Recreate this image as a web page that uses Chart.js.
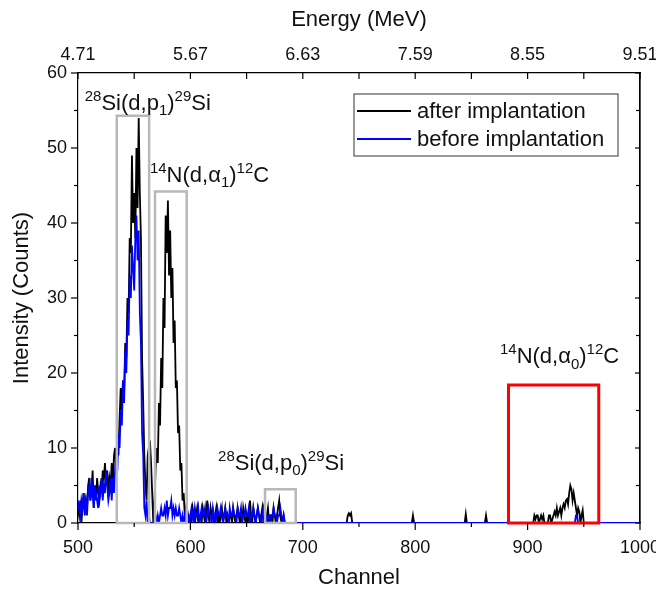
<!DOCTYPE html>
<html>
<head>
<meta charset="utf-8">
<script src="https://cdn.jsdelivr.net/npm/chart.js@4.4.1/dist/chart.umd.min.js"></script>
<style>
  html, body { margin: 0; padding: 0; background: #fff; }
</style>
</head>
<body>
<canvas id="spectrum" width="656" height="592"></canvas>
<script>
const FONT = '"Liberation Sans", Arial, sans-serif';

// spectrum, one count per channel from channel 500 to 699
const startChannel = 500;
const afterCounts = [
  2,1,3,0,2,4,1,3,2,5,   6,3,4,7,2,5,3,6,4,3,
  5,4,7,6,8,5,7,4,6,5,   8,5,9,10,7,12,9,14,18,15,
  19,17,24,22,30,28,38,36,49,40,   44,38,50,42,54,44,38,22,16,9,
  5,3,9,10,11,8,4,0,3,7,   10,8,16,13,22,18,30,26,41,36,
  43,33,39,30,34,24,27,18,19,12,   13,7,8,3,4,1,2,0,1,0,
  1,0,2,1,0,1,2,0,1,1,   0,2,1,0,1,3,1,0,2,1,
  1,0,1,2,0,1,0,1,2,0,   1,2,0,1,0,1,1,0,2,1,
  0,1,2,1,0,1,0,2,1,0,   1,0,1,3,1,0,2,1,0,1,
  2,1,0,1,2,0,1,0,1,2,   0,1,1,0,2,1,0,1,2,3,
  1,0,0,1,0,0,0,0,0,0,   0,0,0,0,0,0,0,0,0,0
];
const beforeCounts = [
  3,2,1,3,2,4,2,3,1,4,   5,3,6,4,2,5,4,3,2,5,
  4,6,3,5,4,7,5,3,4,6,   3,6,4,7,9,7,12,10,15,13,
  19,16,23,20,27,25,33,30,37,34,   31,38,41,35,39,28,24,12,9,2,
  1,3,0,1,0,0,0,0,0,1,   0,1,0,1,2,1,1,2,1,3,
  1,2,2,3,1,2,1,2,1,1,   2,1,0,1,0,1,0,1,1,0,
  1,2,1,0,2,1,1,2,0,1,   2,1,1,2,0,1,2,1,1,0,
  2,1,0,1,2,1,1,2,1,0,   1,2,1,1,0,2,1,1,2,1,
  1,0,2,1,1,2,0,1,1,2,   1,1,2,0,1,1,2,1,0,1,
  2,1,1,0,1,2,1,1,0,1,   1,0,1,1,2,1,1,0,1,1,
  2,1,0,1,0,0,0,0,0,0,   0,0,0,0,0,0,0,0,0,0
];

// channels 700-1000 are almost empty, only these points
const afterTailChannels = [700,739,740,741,742,743,744,797,798,799,844,845,846,862,863,864,
  905,906,907,908,909,910,912,913,914,915,918,919,920,921,923,924,925,926,927,928,929,930,
  931,932,933,934,935,936,937,938,939,940,941,942,943,944,945,946,947,948,949,950,1000];
const afterTailCounts = [0,0,1,1.3,1,1.3,0,0,1,0,0,1.2,0,0,1,0,
  0,1,0.5,1,1,0,1,0.5,1,0,0,1,1,0,1,1.5,1,2,1,1.5,2,1,
  2,2.5,2,3,3.2,2.5,4,5,4.5,3,4,3,2,1,2,1.5,0,1,1.7,0,0];
const beforeTailChannels = [700,942,943,944,945,1000];
const beforeTailCounts = [0,0,1,1,0,0];

const channelTicks = [500,600,700,800,900,1000];
const minorChannelTicks = [550,650,750,850,950];
const energyTicks = ['4.71','5.67','6.63','7.59','8.55','9.51'];
const countTicks = [0,10,20,30,40,50,60];
const minorCountTicks = [5,15,25,35,45,55];

// marked regions: [from channel, to channel, top count]
const grayBoxes = [[534.5,563.3,54.3],[568.5,596.7,44.2],[666.4,693.7,4.5]];
const redBoxes = [[883,963.3,18.4]];

const labels = [
  { parts: [['28','sup'],['Si(d,p',''],['1','sub'],[')',''],['29','sup'],['Si','']], ch: 506, c: 55.1 },
  { parts: [['14','sup'],['N(d,α',''],['1','sub'],[')',''],['12','sup'],['C','']], ch: 564, c: 45.5 },
  { parts: [['28','sup'],['Si(d,p',''],['0','sub'],[')',''],['29','sup'],['Si','']], ch: 624.6, c: 7.1 },
  { parts: [['14','sup'],['N(d,α',''],['0','sub'],[')',''],['12','sup'],['C','']], ch: 875.4, c: 21.3 }
];

function toPoints(counts, tailCh, tailCounts) {
  const pts = counts.map((c, i) => ({ x: startChannel + i, y: c }));
  tailCh.forEach((ch, i) => pts.push({ x: ch, y: tailCounts[i] }));
  return pts;
}

function drawRich(ctx, parts, x, y, size) {
  let cx = x;
  parts.forEach(([text, kind]) => {
    const s = kind ? Math.round(size * 0.66) : size;
    ctx.font = s + 'px ' + FONT;
    const dy = kind === 'sup' ? -size * 0.42 : kind === 'sub' ? size * 0.24 : 0;
    ctx.fillText(text, cx, y + dy);
    cx += ctx.measureText(text).width;
  });
}

function line(ctx, x1, y1, x2, y2) {
  ctx.beginPath();
  ctx.moveTo(x1, y1);
  ctx.lineTo(x2, y2);
  ctx.stroke();
}

// keep the plot frame fixed, labels may hang over the edges
function noPad(s) {
  s.paddingLeft = 0;
  s.paddingRight = 0;
  s.paddingTop = 0;
  s.paddingBottom = 0;
}

const decor = {
  id: 'decor',
  afterDatasetsDraw(chart) {
    const ctx = chart.ctx;
    const x = chart.scales.x, y = chart.scales.y;
    ctx.save();
    ctx.lineWidth = 2.5;
    ctx.strokeStyle = '#b8b8b8';
    grayBoxes.forEach(b => {
      ctx.strokeRect(x.getPixelForValue(b[0]), y.getPixelForValue(b[2]),
        x.getPixelForValue(b[1]) - x.getPixelForValue(b[0]), y.getPixelForValue(0) - y.getPixelForValue(b[2]));
    });
    ctx.lineWidth = 3;
    ctx.strokeStyle = '#ff0000';
    redBoxes.forEach(b => {
      ctx.strokeRect(x.getPixelForValue(b[0]), y.getPixelForValue(b[2]),
        x.getPixelForValue(b[1]) - x.getPixelForValue(b[0]), y.getPixelForValue(0) - y.getPixelForValue(b[2]));
    });
    ctx.restore();
  },
  afterDraw(chart) {
    const ctx = chart.ctx;
    const x = chart.scales.x, y = chart.scales.y;
    const a = chart.chartArea;
    ctx.save();
    ctx.strokeStyle = '#000';
    ctx.lineWidth = 1.2;
    line(ctx, a.right, a.top, a.right, a.bottom);
    channelTicks.forEach(v => {
      const px = x.getPixelForValue(v);
      line(ctx, px, a.bottom, px, a.bottom + 7);
      line(ctx, px, a.top, px, a.top + 6);
    });
    minorChannelTicks.forEach(v => {
      const px = x.getPixelForValue(v);
      line(ctx, px, a.bottom, px, a.bottom + 4);
      line(ctx, px, a.top, px, a.top + 6);
    });
    countTicks.forEach(v => {
      const py = y.getPixelForValue(v);
      line(ctx, a.left - 7, py, a.left, py);
      line(ctx, a.right - 5, py, a.right, py);
    });
    minorCountTicks.forEach(v => {
      const py = y.getPixelForValue(v);
      line(ctx, a.left - 4, py, a.left, py);
      line(ctx, a.right - 4, py, a.right, py);
    });

    // peak labels
    ctx.fillStyle = '#111';
    ctx.textBaseline = 'alphabetic';
    labels.forEach(l => drawRich(ctx, l.parts, x.getPixelForValue(l.ch), y.getPixelForValue(l.c), 22));

    // legend
    const lx = 354, ly = 94;
    ctx.lineWidth = 1;
    ctx.strokeStyle = '#333';
    ctx.strokeRect(lx, ly, 264, 62);
    ctx.font = '22px ' + FONT;
    chart.data.datasets.forEach((ds, i) => {
      const yy = ly + 17 + i * 28;
      ctx.strokeStyle = ds.borderColor;
      ctx.lineWidth = 2;
      line(ctx, lx + 3, yy, lx + 57, yy);
      ctx.fillStyle = '#111';
      ctx.fillText(ds.label, lx + 63, yy + 7);
    });
    ctx.restore();
  }
};

new Chart(document.getElementById('spectrum').getContext('2d'), {
  type: 'line',
  data: {
    datasets: [{
      label: 'after implantation',
      data: toPoints(afterCounts, afterTailChannels, afterTailCounts),
      borderColor: '#000000',
      borderWidth: 1.8,
      pointRadius: 0,
      tension: 0,
      order: 1
    }, {
      label: 'before implantation',
      data: toPoints(beforeCounts, beforeTailChannels, beforeTailCounts),
      borderColor: '#0000ff',
      borderWidth: 1.8,
      pointRadius: 0,
      tension: 0,
      order: 0
    }]
  },
  options: {
    responsive: false,
    animation: false,
    parsing: false,
    layout: { padding: 0, autoPadding: false },
    plugins: {
      legend: { display: false },
      tooltip: { enabled: false }
    },
    scales: {
      x: {
        type: 'linear', position: 'bottom', min: 500, max: 1000,
        afterBuildTicks: s => { s.ticks = channelTicks.map(v => ({ value: v })); },
        ticks: { font: { family: FONT, size: 18 }, color: '#111', padding: 14, maxRotation: 0, autoSkip: false,
          callback: v => String(v) },
        grid: { display: false, drawTicks: false },
        border: { color: '#000', width: 1.2 },
        title: { display: true, text: 'Channel', font: { family: FONT, size: 22 }, color: '#111', padding: { top: 0, bottom: 1 } },
        afterFit: s => { s.height = 69; noPad(s); }
      },
      x2: {
        type: 'linear', position: 'top', min: 500, max: 1000,
        afterBuildTicks: s => { s.ticks = channelTicks.map(v => ({ value: v })); },
        ticks: { font: { family: FONT, size: 18 }, color: '#111', padding: 7, maxRotation: 0, autoSkip: false,
          callback: v => energyTicks[channelTicks.indexOf(v)] },
        grid: { display: false, drawTicks: false },
        border: { color: '#000', width: 1.2 },
        title: { display: true, text: 'Energy (MeV)', font: { family: FONT, size: 22 }, color: '#111', padding: { top: 7, bottom: 0 } },
        afterFit: s => { s.height = 73; noPad(s); }
      },
      y: {
        min: 0, max: 60,
        afterBuildTicks: s => { s.ticks = countTicks.map(v => ({ value: v })); },
        ticks: { font: { family: FONT, size: 18 }, color: '#111', padding: 11 },
        grid: { display: false, drawTicks: false },
        border: { color: '#000', width: 1.2 },
        title: { display: true, text: 'Intensity (Counts)', font: { family: FONT, size: 22 }, color: '#111', padding: { top: 9, bottom: 0 } },
        afterFit: s => { s.width = 78; noPad(s); }
      },
      y2: {
        position: 'right', min: 0, max: 60,
        ticks: { display: false },
        grid: { display: false, drawTicks: false },
        border: { color: '#000', width: 1.2 },
        afterFit: s => { s.width = 16; noPad(s); }
      }
    }
  },
  plugins: [decor]
});
</script>
</body>
</html>
